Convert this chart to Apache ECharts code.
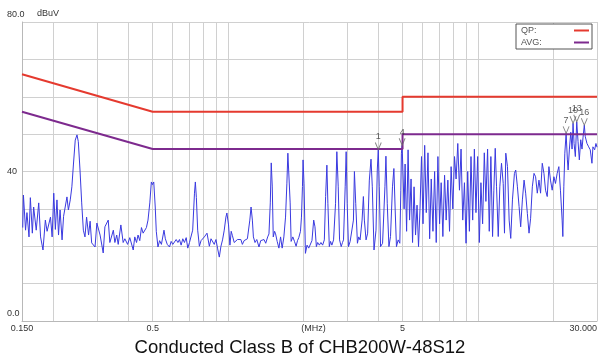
<!DOCTYPE html>
<html>
<head>
<meta charset="utf-8">
<script src="https://cdn.jsdelivr.net/npm/echarts@6/dist/echarts.min.js"></script>
<style>
  html, body { margin: 0; padding: 0; background: #fff; }
  #chart { width: 600px; height: 360px; }
</style>
</head>
<body>
<div id="chart"></div>
<script>
// Conducted emission scan, frequency in MHz and level in dBuV
const freqMHz = [
  0.151, 0.152, 0.155, 0.157, 0.160, 0.162, 0.165, 0.167, 0.171, 0.175, 0.178, 0.182, 0.186, 0.189, 0.195, 0.198,
  0.201, 0.204, 0.207, 0.210, 0.213, 0.217, 0.220, 0.227, 0.230, 0.234, 0.2375, 0.241, 0.245, 0.249, 0.252, 0.256,
  0.260, 0.264, 0.268, 0.272, 0.277, 0.281, 0.285, 0.294, 0.299, 0.308, 0.317, 0.322, 0.332, 0.337, 0.348,
  0.353, 0.359, 0.364, 0.373, 0.381, 0.387, 0.397, 0.405, 0.418, 0.424, 0.431, 0.437, 0.444, 0.451, 0.458, 0.472,
  0.479, 0.487, 0.494, 0.499, 0.505, 0.512, 0.517, 0.525, 0.533, 0.542, 0.555, 0.562, 0.572, 0.584, 0.593, 0.602,
  0.612, 0.621, 0.631, 0.640, 0.650, 0.660, 0.670, 0.681, 0.691, 0.702, 0.713, 0.723, 0.735, 0.741, 0.748, 0.757,
  0.769, 0.781, 0.793, 0.805, 0.825, 0.843, 0.856, 0.869,
  0.882, 0.896, 0.909, 0.924, 0.938, 0.952, 0.967, 0.982, 0.991, 1.006, 1.019, 1.031, 1.043, 1.060, 1.076, 1.092,
  1.109, 1.127, 1.143, 1.161, 1.180, 1.197, 1.208, 1.224, 1.238, 1.253, 1.265, 1.284, 1.305, 1.332, 1.353, 1.373,
  1.395, 1.417, 1.443, 1.460, 1.478, 1.491, 1.505, 1.519, 1.538, 1.552, 1.575, 1.600, 1.625, 1.649, 1.675, 1.701,
  1.722, 1.738, 1.758, 1.775, 1.791, 1.819, 1.847, 1.875, 1.899, 1.922, 1.952, 1.970, 1.988, 1.999, 2.017, 2.043,
  2.074, 2.106, 2.139, 2.170, 2.205, 2.231, 2.260, 2.287, 2.323, 2.357, 2.394, 2.432, 2.461, 2.490, 2.513, 2.546,
  2.576, 2.607, 2.648, 2.697, 2.729, 2.764, 2.798, 2.841, 2.875, 2.902, 2.947, 2.974, 3.002, 3.038, 3.085, 3.131,
  3.180, 3.209, 3.248, 3.299, 3.338, 3.381, 3.444, 3.485, 3.517, 3.572, 3.625, 3.682, 3.739, 3.784, 3.844, 3.915,
  3.962, 3.998, 4.035, 4.083, 4.159, 4.251, 4.290, 4.342, 4.410, 4.475, 4.557, 4.616, 4.672, 4.727, 4.802, 4.876,
  4.921, 4.948, 4.981,
  5.072, 5.119, 5.190, 5.262, 5.334, 5.408, 5.483, 5.559, 5.636, 5.714, 5.793, 5.873, 5.954, 6.037, 6.131, 6.222,
  6.320, 6.418, 6.513, 6.616, 6.719, 6.819, 6.926, 7.034, 7.138, 7.250, 7.364, 7.473, 7.590, 7.708, 7.822, 7.945,
  8.070, 8.189, 8.318, 8.447, 8.572, 8.707, 8.844, 8.975, 9.115, 9.258, 9.394, 9.542, 9.692, 9.835, 9.989, 10.145,
  10.295, 10.457, 10.621, 10.778, 10.947, 11.118, 11.282,
  11.460, 11.597, 11.747, 11.888, 12.075, 12.253, 12.445, 12.641, 12.792, 12.945, 13.148, 13.353, 13.550, 13.764,
  14.018, 14.186, 14.409, 14.633, 14.849, 15.083, 15.320, 15.546, 15.790, 16.037, 16.274, 16.530, 16.789, 17.037,
  17.305, 17.576, 17.835, 18.116, 18.400, 18.672, 18.965, 19.261, 19.545, 19.853, 20.164, 20.463, 20.783, 21.108,
  21.420, 21.757, 21.898, 22.098, 22.303, 22.570, 22.838, 22.989, 23.262, 23.562, 23.844, 24.061, 24.285, 24.575,
  24.891, 25.195, 25.492, 25.821, 26.129, 26.368, 26.687, 26.932, 27.355, 27.782, 28.192, 28.636, 28.897, 29.355,
  29.706, 30.000
];
const levelDbuv = [
  25, 33.7, 24.3, 29, 22.5, 33, 23.5, 30.5, 24.3, 31.6, 22.5, 19, 27, 24, 27.8, 22.5,
  34.2, 24.5, 32.4, 23, 29.7, 21.7, 28, 33.2, 29.7, 32.4, 35.9, 42, 48.4, 49.8, 48, 40.4,
  31.6, 24.3, 22.5, 27.8, 23, 26.7, 20.9, 19.8, 26.2, 23, 18.2, 25.2, 27, 21, 24.3,
  21, 23, 20.5, 25.7, 21, 22, 20.5, 22.3, 19, 22.5, 21, 23, 21.5, 25, 23.5, 25,
  27, 31.6, 37.2, 36.5, 37.2, 30.5, 24, 19.8, 21.5, 20.5, 24.3, 22, 20.5, 19.8, 21.3, 20.5,
  20.8, 21.8, 21, 21.8, 20.3, 22, 21, 22.3, 19.5, 21, 21, 24.3, 34.2, 37.2, 33, 24.3,
  20, 21.5, 21, 22.5, 23.5, 20, 22, 21.5,
  20.5, 21.8, 19.5, 17.1, 20, 21.7, 24.3, 27.8, 28.9, 25.7, 20.3, 24, 22.8, 21, 20.5, 21.8,
  21.3, 21.8, 20.5, 21.5, 21.3, 22, 22.5, 27, 30.5, 27, 22.5, 21, 21.8, 19.8, 21.5, 21.3,
  21.8, 20.8, 22.5, 23.3, 31.6, 42.3, 36.1, 22.5, 24, 23.3, 21.3, 19.5, 22.5, 19.5, 22.5, 27.8,
  36.7, 44.9, 44.5, 31.6, 21.3, 22.5, 21.3, 20, 21.5, 22.3, 24, 27.8, 36, 43.1, 36.7, 18.1,
  20.3, 19.5, 19.9, 21.5, 27, 25.2, 19.9, 21, 20.3, 21, 20.3, 21.7, 33.3, 41.7, 31.5, 19.9,
  21.3, 20.3, 21.7, 31.5, 45.3, 35.9, 21.7, 19.9, 21, 21.7, 35.9, 45.3, 31.5, 19.9, 21.3, 20.8,
  27, 40, 31.5, 20.8, 22.5, 21.7, 27, 33.3, 27, 21.7, 23.5, 37.7, 43.3, 35.9, 19, 24.3,
  40.4, 45.9, 35.9, 19.9, 20.8, 35.9, 44.1, 31.5, 19.9, 22.6, 35.9, 40.8, 29.7, 19.9, 21.7, 20.8,
  35, 44.9, 47,
  30, 42, 24, 45.8, 27, 38, 21, 35.9, 23, 31, 19.9, 30, 44, 26, 47, 29,
  45, 22, 38, 24, 40, 21, 44, 26, 37, 22.6, 39, 27, 37.7, 24, 41.3, 30,
  44, 38, 47.5, 35, 46, 27, 37, 20.8, 40, 24, 44, 27, 46, 29, 44, 21,
  37, 26, 45, 32, 46, 24, 44,
  22.6, 35, 46.2, 35.9, 22.6, 35.9, 42.2, 36.8, 23.5, 44.9, 41.3, 27, 22.1, 32.4,
  39.5, 40.4, 35.9, 30.6, 25.2, 32.4, 37.7, 34.2, 28.8, 23.5, 27.5, 35.9, 39.5, 38.6,
  34.2, 37.7, 34.2, 42.2, 39.5, 35, 33.3, 41.3, 37.7, 35, 38.6, 36.8, 39.5, 41.3,
  35, 27, 22.6, 35.9, 44.9, 50.2, 43.1, 40.4, 46, 50.5, 46, 52.9, 47.5, 44,
  53.3, 48, 43.1, 48.5, 46, 49, 52.4, 49.3, 47.5, 46.6, 45.8, 42.2, 46.6, 45.8,
  47.5, 46.5
];

// CISPR 22 Class B limits (dBuV)
const qpFreq = [0.15, 0.5, 5, 5, 30];
const qpLevel = [66, 56, 56, 60, 60];
const avgFreq = [0.15, 0.5, 5, 5, 30];
const avgLevel = [56, 46, 46, 50, 50];

// Peak markers
const markerIds = [1, 4, 7, 10, 13, 16];
const markerFreq = [3.998, 4.981, 22.570, 24.061, 24.891, 26.687];
const markerLevel = [45.9, 47, 50.2, 52.9, 53.3, 52.4];

// Axis ticks and labels
const freqGrid = [0.2, 0.3, 0.4, 0.5, 0.6, 0.7, 0.8, 0.9, 1, 2, 3, 4, 5, 6, 7, 8, 9, 10, 20, 30];
const freqLabelValues = [0.15, 0.5, 5, 30];
const freqLabelText = ['0.150', '0.5', '5', '30.000'];
const levelLabelValues = [0, 40, 80];
const levelLabelText = ['0.0', '40', '80.0'];

const zip = (xs, ys) => xs.map((x, i) => [x, ys[i]]);
const nearestIndex = (list, v) => {
  let best = 0;
  list.forEach((c, i) => { if (Math.abs(Math.log(c) - Math.log(v)) < Math.abs(Math.log(list[best]) - Math.log(v))) best = i; });
  return best;
};

const FONT = '"Liberation Sans", Arial, sans-serif';
const chart = echarts.init(document.getElementById('chart'), null, { renderer: 'canvas' });

chart.setOption({
  animation: false,
  backgroundColor: '#ffffff',
  textStyle: { fontFamily: FONT },
  title: {
    text: 'Conducted Class B of CHB200W-48S12',
    left: 'center',
    bottom: -2,
    textStyle: { fontSize: 18.5, fontWeight: 'normal', color: '#111', fontFamily: FONT }
  },
  grid: { left: 22, right: 0, top: 22, bottom: 39 },
  legend: {
    data: ['QP:', 'AVG:'],
    orient: 'vertical',
    right: 8,
    top: 24,
    align: 'right',
    icon: 'rect',
    itemWidth: 15,
    itemHeight: 2,
    itemGap: 3,
    padding: [2, 3, 2, 5],
    borderColor: '#555',
    borderWidth: 1,
    backgroundColor: '#fff',
    formatter: name => '{t|' + name + '}',
    textStyle: {
      fontSize: 9, color: '#555', fontFamily: FONT,
      rich: { t: { width: 48, align: 'left', fontSize: 9, color: '#555' } }
    }
  },
  xAxis: {
    type: 'log',
    logBase: 10,
    min: 0.15,
    max: 30,
    name: '(MHz)',
    nameLocation: 'middle',
    nameGap: 3,
    nameMoveOverlap: false,
    nameTextStyle: { fontSize: 9, color: '#333', padding: [0, 0, 0, 8], verticalAlign: 'top' },
    axisLine: { show: true, lineStyle: { color: '#b8b8b8', width: 1 } },
    axisTick: { show: false, customValues: freqGrid },
    axisLabel: {
      customValues: freqLabelValues,
      fontSize: 9,
      color: '#333',
      margin: 3,
      alignMaxLabel: 'right',
      formatter: v => freqLabelText[nearestIndex(freqLabelValues, v)]
    },
    splitLine: { show: true, lineStyle: { color: '#d0d0d0', width: 1 } }
  },
  yAxis: {
    type: 'value',
    min: 0,
    max: 80,
    interval: 10,
    name: 'dBuV',
    nameLocation: 'end',
    nameGap: 4,
    nameTextStyle: { fontSize: 9, color: '#333', align: 'left', padding: [0, 0, 0, 15] },
    axisLine: { show: true, lineStyle: { color: '#b8b8b8', width: 1 } },
    axisTick: { show: false },
    axisLabel: {
      customValues: levelLabelValues,
      fontSize: 9,
      color: '#333',
      align: 'left',
      margin: 15,
      formatter: v => {
        const i = levelLabelValues.indexOf(Math.round(v));
        return i === 1 ? levelLabelText[i] : '{s|' + levelLabelText[i] + '}';
      },
      rich: { s: { fontSize: 9, color: '#333', padding: [0, 0, 14, 0] } }
    },
    splitLine: { show: true, lineStyle: { color: '#d0d0d0', width: 1 } }
  },
  series: [
    {
      name: 'Scan',
      type: 'line',
      data: zip(freqMHz, levelDbuv),
      showSymbol: false,
      symbol: 'none',
      lineStyle: { color: '#3a3ae0', width: 1 },
      itemStyle: { color: '#3a3ae0' },
      z: 2
    },
    {
      name: 'QP:',
      type: 'line',
      data: zip(qpFreq, qpLevel),
      showSymbol: false,
      symbol: 'none',
      lineStyle: { color: '#e53a2f', width: 2 },
      itemStyle: { color: '#e53a2f' },
      z: 3
    },
    {
      name: 'AVG:',
      type: 'line',
      data: zip(avgFreq, avgLevel),
      showSymbol: false,
      symbol: 'none',
      lineStyle: { color: '#7d2a8e', width: 2 },
      itemStyle: { color: '#7d2a8e' },
      z: 3
    },
    {
      name: 'Markers',
      type: 'scatter',
      data: markerFreq.map((f, i) => [f, markerLevel[i]]),
      symbol: 'path://M0,0 L5,10 L10,0',
      symbolSize: [6, 7],
      symbolOffset: [0, -3.5],
      itemStyle: { color: 'rgba(0,0,0,0)', borderColor: '#666', borderWidth: 1 },
      label: {
        show: true,
        position: 'top',
        distance: 1,
        fontSize: 9,
        color: '#333',
        formatter: p => String(markerIds[p.dataIndex])
      },
      labelLayout: { hideOverlap: false },
      z: 4
    }
  ]
});
</script>
</body>
</html>
